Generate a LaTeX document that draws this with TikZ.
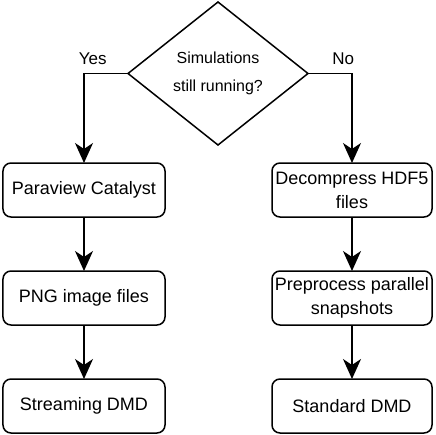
\documentclass[tikz,border=0pt]{standalone}
\usepackage{fontspec}
\setmainfont{Liberation Sans}
\usepackage{tikz}
\usetikzlibrary{shapes.geometric, arrows.meta, positioning}

\begin{document}
\begin{tikzpicture}[
  node distance = 54pt,
  >={Stealth[length=20pt, width=18pt, inset=6pt]},
  every node/.style={inner sep=0pt, outer sep=0pt, anchor=center},
  decision/.style={diamond, draw=black, line width=1.5pt, minimum width=180pt,
    minimum height=143pt, align=center, font=\fontsize{16}{28}\selectfont},
  process/.style={rectangle, rounded corners=8pt, draw=black, line width=1.5pt,
    minimum height=54pt, align=center, font=\fontsize{18}{24}\selectfont},
  flow/.style={->, line width=1.5pt},
  branch/.style={font=\fontsize{17}{20}\selectfont}
]
  \useasboundingbox (-218pt,73.5pt) rectangle (218pt,-360.5pt);
  % ----- decision -----
  \node[decision] (dec) at (0,0) {Simulations\\still running?};
  % ----- yes branch (left column) -----
  \node[process, minimum width=162pt, below=18pt of dec, xshift=-134pt] (cat) {Paraview Catalyst};
  \node[process, minimum width=162pt, below=of cat] (png) {PNG image files};
  \node[process, minimum width=162pt, below=of png] (sdmd) {Streaming DMD};
  % ----- no branch (right column) -----
  \node[process, minimum width=160pt, below=18pt of dec, xshift=134pt] (hdf) {Decompress HDF5\\files};
  \node[process, minimum width=160pt, below=of hdf] (pre) {Preprocess parallel\\snapshots};
  \node[process, minimum width=160pt, below=of pre] (std) {Standard DMD};
  % ----- arrows -----
  \draw[flow] (dec.west) -| node[branch, pos=0.4, above=9pt] {Yes} (cat.north);
  \draw[flow] (dec.east) -| node[branch, pos=0.4, above=9pt] {No} (hdf.north);
  \draw[flow] (cat) -- (png);
  \draw[flow] (png) -- (sdmd);
  \draw[flow] (hdf) -- (pre);
  \draw[flow] (pre) -- (std);
\end{tikzpicture}
\end{document}
